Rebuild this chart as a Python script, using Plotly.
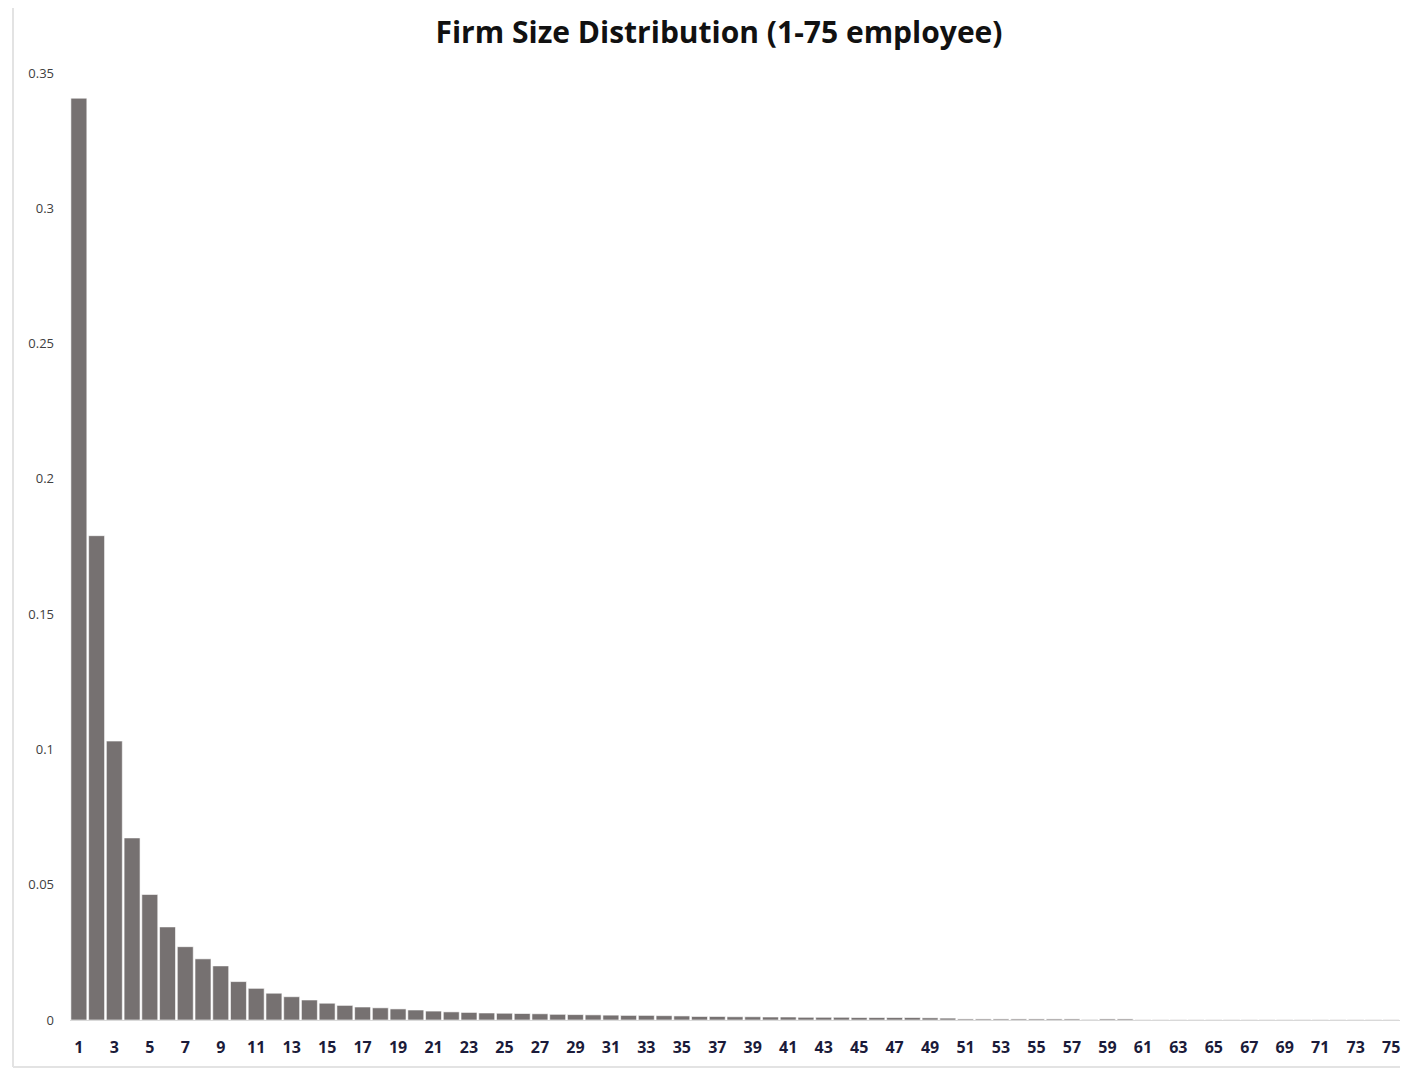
import plotly.graph_objects as go

# firm size (employees) 1..75
sizes = list(range(1, 76))

# share of firms per size
shares = [
    0.3407, 0.1790, 0.1031, 0.0673, 0.0464, 0.0344, 0.0271, 0.0226, 0.0200, 0.0142,
    0.0117, 0.0099, 0.0086, 0.0074, 0.0062, 0.0054, 0.0048, 0.0045, 0.0041, 0.0037,
    0.0033, 0.0030, 0.0028, 0.0026, 0.0025, 0.0024, 0.0023, 0.0021, 0.0020, 0.0019,
    0.0018, 0.0017, 0.0017, 0.0016, 0.0015, 0.0013, 0.0013, 0.0012, 0.0012, 0.0011,
    0.0011, 0.0010, 0.0010, 0.0010, 0.0009, 0.0009, 0.0009, 0.0009, 0.0008, 0.0007,
    0.0004, 0.0004, 0.0004, 0.0004, 0.0004, 0.0004, 0.0004, 0.0002, 0.0004, 0.0004,
    0.0001, 0.0001, 0.0001, 0.0001, 0.0001, 0.0001, 0.0001, 0.0001, 0.0001, 0.0001,
    0.0001, 0.0001, 0.0001, 0.0001, 0.0001,
]

x_tick_labels = [str(s) for s in sizes if s % 2 == 1]
y_tick_vals = [0, 0.05, 0.1, 0.15, 0.2, 0.25, 0.3, 0.35]
y_tick_text = ['0', '0.05', '0.1', '0.15', '0.2', '0.25', '0.3', '0.35']

FONT = 'Open Sans, Lato, sans-serif'

W, H = 1393, 1061
ML, MR, MT, MB = 62, 1, 65, 49
PW, PH = W - ML - MR, H - MT - MB

fig = go.Figure(go.Bar(
    x=[str(s) for s in sizes],
    y=shares,
    marker=dict(color='#767171', line=dict(color='white', width=0.6)),
    hoverinfo='x+y',
))

# the page body has an 8px margin, so the figure is sized to fit inside it
fig.update_layout(
    width=W,
    height=H,
    paper_bgcolor='white',
    plot_bgcolor='white',
    margin=dict(l=ML, r=MR, t=MT, b=MB),
    bargap=0.1,
    showlegend=False,
    font=dict(family=FONT),
    title=dict(
        text='<b>Firm Size Distribution (1-75 employee)</b>',
        x=711 / W, xanchor='center', y=1 - 24 / H, yanchor='middle',
        font=dict(size=30, color='#111111', family=FONT),
    ),
)

fig.update_xaxes(
    type='category',
    tickmode='array',
    tickvals=x_tick_labels,
    ticktext=['<b>%s</b>' % t for t in x_tick_labels],
    tickfont=dict(size=16, color='#1b1b3a'),
    ticklabelstandoff=13,
    showline=True, linecolor='#d9d9d9', linewidth=1,
    showgrid=False, ticks='',
)

fig.update_yaxes(
    range=[0, 0.35],
    tickmode='array',
    tickvals=y_tick_vals,
    ticktext=y_tick_text,
    tickfont=dict(size=13, color='#404040'),
    ticklabelstandoff=15,
    showgrid=False, zeroline=False, showline=False, ticks='',
)

# thin gray frame along left and bottom edges
frame_x = -57 / PW
frame_y = -(MB - 2) / PH
fig.add_shape(type='line', xref='paper', yref='paper',
              x0=frame_x, x1=frame_x, y0=1.08, y1=frame_y,
              line=dict(color='#e3e3e3', width=2))
fig.add_shape(type='line', xref='paper', yref='paper',
              x0=frame_x, x1=1.0, y0=frame_y, y1=frame_y,
              line=dict(color='#e3e3e3', width=2))

fig.write_html('out.html')
